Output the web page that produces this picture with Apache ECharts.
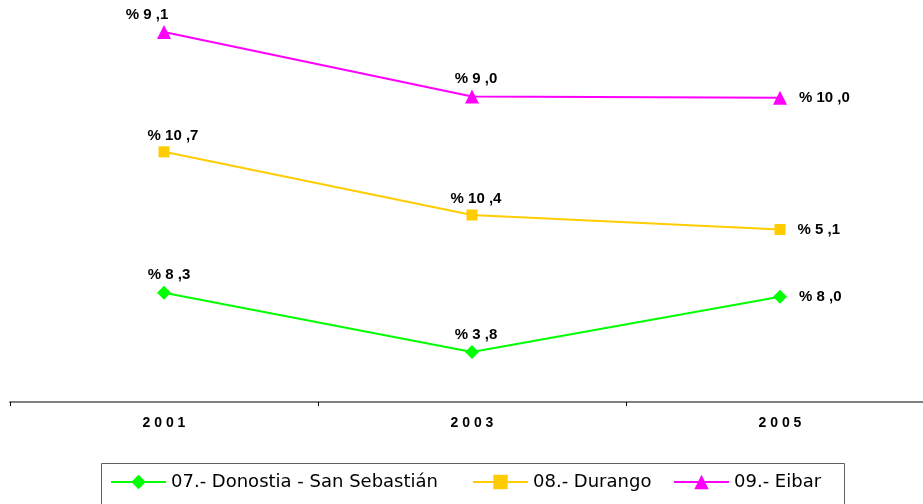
<!DOCTYPE html>
<html>
<head>
<meta charset="utf-8">
<script src="https://cdn.jsdelivr.net/npm/echarts@6/dist/echarts.min.js"></script>
<style>
  html, body { margin: 0; padding: 0; background: #fff; overflow: hidden; }
  #chart { width: 940px; height: 504px; }
</style>
</head>
<body>
<div id="chart"></div>
<script>
// datos
const years = ['2001', '2003', '2005'];
const donostia = [8.3, 3.8, 8.0];
const durango = [10.7, 10.4, 5.1];
const eibar = [9.1, 9.0, 10.0];
const names = ['07.- Donostia - San Sebastián', '08.- Durango', '09.- Eibar'];

const chart = echarts.init(document.getElementById('chart'));

// "%9,1" con el espaciado del original
function pct(v) {
  const p = v.toFixed(1).split('.');
  return '% ' + p[0] + ' ,' + p[1];
}

function labelsFor(vals, firstDx) {
  return vals.map(function (v, i) {
    const lbl = i === 2
      ? { position: 'right', distance: 12 }
      : { position: 'top', distance: 3, offset: [i === 0 ? firstDx : 4, 0] };
    return { value: v, label: lbl };
  });
}

const labelStyle = {
  show: true,
  formatter: function (p) { return pct(p.value); },
  color: '#000',
  fontFamily: 'Liberation Sans',
  fontWeight: 'bold',
  fontSize: 15
};

function serie(name, vals, color, symbol, size, firstDx) {
  return {
    name: name,
    type: 'line',
    stack: 'total',
    data: labelsFor(vals, firstDx),
    symbol: symbol,
    symbolSize: size,
    showAllSymbol: true,
    lineStyle: { color: color, width: 2 },
    itemStyle: { color: color },
    label: labelStyle,
    animation: false
  };
}

// leyenda: tres bloques dentro de un marco común
const legendLefts = [110, 472, 673];
function legendAt(i) {
  return {
    left: legendLefts[i],
    top: 473,
    padding: 0,
    itemWidth: 55,
    itemHeight: 18,
    textStyle: { fontFamily: 'DejaVu Sans', fontSize: 18, color: '#000' },
    data: [names[i]]
  };
}

chart.setOption({
  animation: false,
  grid: { left: 10, right: 6, top: 7, bottom: 102 },
  graphic: [{
    type: 'rect',
    left: 99,
    top: 461,
    shape: { width: 743, height: 60 },
    style: { fill: 'none', stroke: '#606060', lineWidth: 1 },
    silent: true
  }],
  legend: [legendAt(0), legendAt(1), legendAt(2)],
  xAxis: {
    type: 'category',
    data: years,
    boundaryGap: true,
    axisLine: { lineStyle: { color: '#808080', width: 2 } },
    axisTick: { show: true, inside: false, length: 4, lineStyle: { color: '#000', width: 1 } },
    axisLabel: {
      margin: 14,
      color: '#000',
      fontFamily: 'Liberation Sans',
      fontWeight: 'bold',
      fontSize: 14,
      formatter: function (v) { return v.split('').join(' '); }
    }
  },
  yAxis: {
    type: 'value',
    min: 0,
    max: 30,
    show: false,
    splitLine: { show: false }
  },
  series: [
    serie(names[0], donostia, '#00ff00', 'diamond', 14, 5),
    serie(names[1], durango, '#ffcc00', 'rect', 11, 9),
    serie(names[2], eibar, '#ff00ff', 'triangle', 14, -17)
  ]
});
</script>
</body>
</html>
